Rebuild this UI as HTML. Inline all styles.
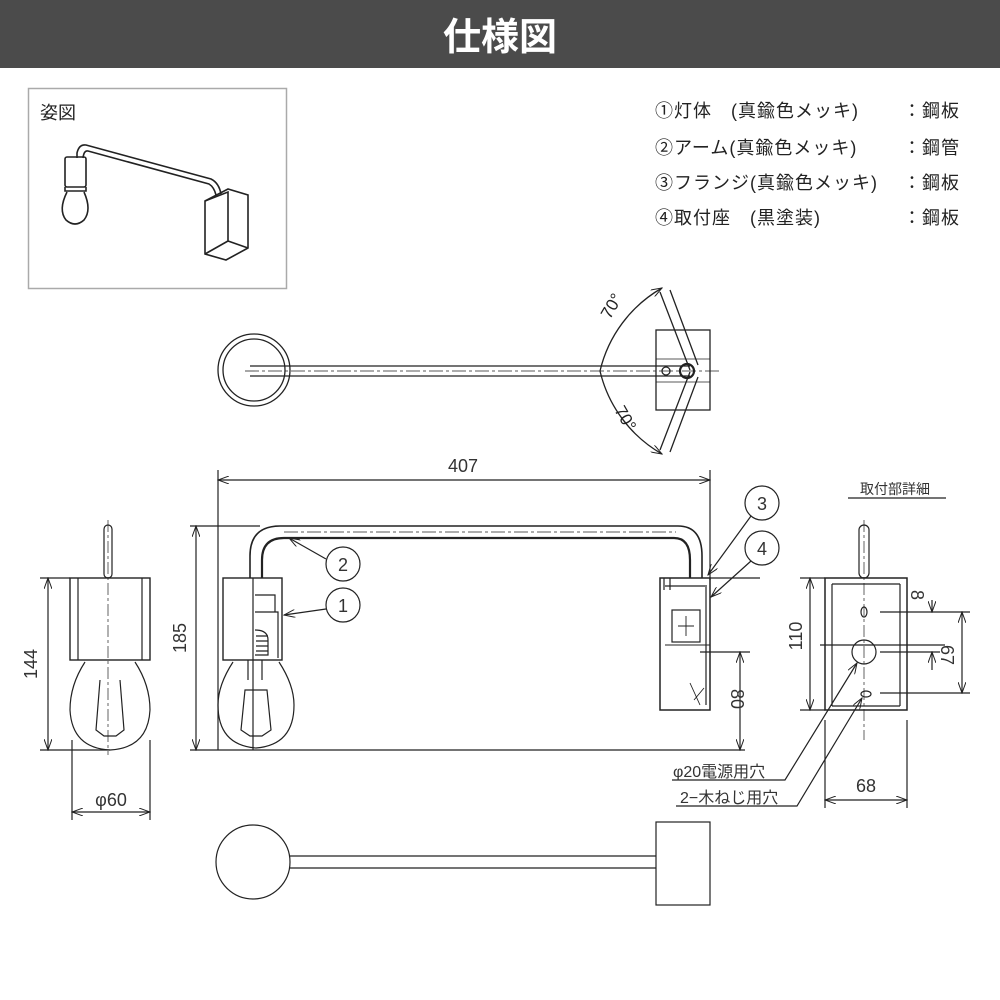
<!DOCTYPE html>
<html><head><meta charset="utf-8"><style>
body{margin:0;background:#fff}
svg{display:block}
text{font-family:"Liberation Sans","Noto Sans CJK JP",sans-serif}
</style></head><body>
<svg width="1000" height="1000" viewBox="0 0 1000 1000" xmlns="http://www.w3.org/2000/svg">
<defs>
<marker id="a" markerWidth="12" markerHeight="8" refX="11" refY="4" orient="auto-start-reverse" markerUnits="userSpaceOnUse"><path d="M0,0 L11,4 L0,8" fill="none" stroke="#222" stroke-width="1"/></marker>
</defs>
<rect x="0" y="0" width="1000" height="68" fill="#4b4b4b"/>
<text x="500" y="50" font-size="38" font-weight="bold" fill="#fff" text-anchor="middle">仕様図</text>

<!-- inset -->
<rect x="28.5" y="88.5" width="258" height="200" fill="none" stroke="#aaa" stroke-width="1.5"/>
<text x="40" y="119" font-size="18" fill="#222">姿図</text>
<g fill="none" stroke="#222" stroke-width="1.6">
<path d="M77,158 L77,153 Q79,144 86,145 L211,179 Q219,183 221,194"/>
<path d="M83,158 Q84,150 88,151 L209,184 Q214,187 216,195"/>
<rect x="65" y="157" width="21" height="30" rx="2"/>
<path d="M65,187 L65,191 L86,191 L86,187"/>
<path d="M67,192 Q58,210 66,220 Q75,228 84,220 Q92,210 84,192"/>
<path d="M205,201 L228,189 L248,195 L248,248 L226,260 L205,254 Z"/>
<path d="M205,201 L228,192 L228,241 L205,254 M228,241 L248,248"/>
</g>

<!-- spec list -->
<g font-size="18" fill="#222" letter-spacing="1">
<text x="655" y="117">①灯体　(真鍮色メッキ)</text><text x="903" y="117">：鋼板</text>
<text x="655" y="154">②アーム(真鍮色メッキ)</text><text x="903" y="154">：鋼管</text>
<text x="655" y="189">③フランジ(真鍮色メッキ)</text><text x="903" y="189">：鋼板</text>
<text x="655" y="224">④取付座　(黒塗装)</text><text x="903" y="224">：鋼板</text>
</g>

<g fill="none" stroke="#222" stroke-width="1.3">
<!-- top view -->
<circle cx="254" cy="370" r="36"/>
<circle cx="254" cy="370" r="31"/>
<path d="M250,366 L690,366 M250,376 L690,376"/>
<path d="M245,371 L720,371" stroke-dasharray="14,3,3,3" stroke-width="0.8"/>
<rect x="656" y="330" width="54" height="80"/>
<path d="M656,359 L710,359 M656,382 L710,382" stroke-width="0.8"/>
<path d="M660,292 L690,370 M670,290 L698,365 M660,450 L690,372 M670,452 L698,377"/>
<circle cx="687" cy="371" r="7" stroke-width="2.2"/>
<circle cx="666" cy="371" r="4"/>
<path d="M662,288 A130,130 0 0 0 600,371 A130,130 0 0 0 662,454" marker-start="url(#a)" marker-end="url(#a)"/>
</g>
<text x="610" y="320" font-size="17" fill="#222" transform="rotate(-60 610 320)">70°</text>
<text x="614" y="410" font-size="17" fill="#222" transform="rotate(60 614 410)">70°</text>

<g fill="none" stroke="#222" stroke-width="1.2">
<!-- 407 dim -->
<path d="M218,470 L218,750 M710,470 L710,580"/>
<path d="M218,480 L710,480" marker-start="url(#a)" marker-end="url(#a)"/>
<!-- 185 dim -->
<path d="M190,526 L260,526 M190,750 L745,750"/>
<path d="M196,526 L196,750" marker-start="url(#a)" marker-end="url(#a)"/>
<!-- arm -->
<path d="M250,578 L250,556 Q250,526 280,526 L678,526 Q702,526 702,556 L702,578" stroke-width="1.6"/>
<path d="M262,578 L262,560 Q262,538 284,538 L674,538 Q690,538 690,560 L690,578" stroke-width="2.2"/>
<path d="M284,532 L676,532" stroke-dasharray="14,3,3,3" stroke-width="0.7"/>
<!-- socket -->
<rect x="223" y="578" width="59" height="82" stroke-width="1.4"/>
<path d="M253,578 L253,750 M255,595 L275,595 L275,612 L255,612 M255,612 L278,612 L278,658"/>
<path d="M255,630 Q268,630 268,640 L268,655 L255,655" />
<path d="M256,636 L268,636 M256,641 L268,641 M256,646 L268,646 M256,651 L268,651"/>
<path d="M233,662 Q218,685 218,705 Q218,745 256,748 Q294,745 294,705 Q294,685 279,662"/>
<path d="M248,660 L248,680 M262,660 L262,680 M245,690 L241,730 L250,736 L262,736 L271,730 L267,690 Z"/>
<!-- wall box -->
<rect x="660" y="578" width="50" height="132" stroke-width="1.5"/>
<path d="M706,585 L706,705 M665,586 L705,586 M664,578 L664,590 M670,578 L670,590"/>
<rect x="672" y="610" width="28" height="32"/>
<path d="M678,626 L694,626 M686,616 L686,636 M665,645 L710,645 M690,683 L700,705 M694,700 L704,688" stroke-width="0.9"/>
<path d="M710,578 L760,578 M700,652 L750,652"/>
<path d="M740,652 L740,750" marker-start="url(#a)" marker-end="url(#a)"/>
<!-- callouts -->
<circle cx="762" cy="503" r="17"/><circle cx="762" cy="548" r="17"/>
<circle cx="343" cy="564" r="17"/><circle cx="343" cy="605" r="17"/>
<path d="M751,516 L708,575" marker-end="url(#a)"/>
<path d="M751,561 L711,597" marker-end="url(#a)"/>
<path d="M326,559 L289,538" marker-end="url(#a)"/>
<path d="M326,609 L284,615" marker-end="url(#a)"/>

<!-- side view -->
<rect x="70" y="578" width="80" height="82" stroke-width="1.4"/>
<path d="M78,578 L78,660 M142,578 L142,660"/>
<rect x="104" y="525" width="8" height="53" rx="4"/>
<path d="M108,520 L108,755" stroke-dasharray="12,3,3,3" stroke-width="0.7"/>
<path d="M85,662 Q70,685 70,710 Q72,748 110,750 Q148,748 150,710 Q150,685 135,662"/>
<path d="M100,680 L96,730 L104,736 L116,736 L124,730 L120,680"/>
<path d="M40,578 L70,578 M40,750 L110,750"/>
<path d="M48,578 L48,750" marker-start="url(#a)" marker-end="url(#a)"/>
<path d="M72,740 L72,820 M150,740 L150,820"/>
<path d="M72,812 L150,812" marker-start="url(#a)" marker-end="url(#a)"/>

<!-- detail -->
<path d="M848,498 L946,498"/>
<rect x="825" y="578" width="82" height="132" stroke-width="1.5"/>
<path d="M832,584 L832,706 M900,584 L900,706 M832,584 L900,584 M832,706 L900,706"/>
<rect x="859" y="525" width="10" height="53" rx="5"/>
<path d="M864,520 L864,740" stroke-dasharray="12,3,3,3" stroke-width="0.7"/>
<circle cx="864" cy="652" r="12"/>
<ellipse cx="864" cy="612" rx="3" ry="5"/>
<ellipse cx="866" cy="694" rx="5" ry="3"/>
<path d="M800,578 L825,578 M800,710 L825,710"/>
<path d="M810,578 L810,710" marker-start="url(#a)" marker-end="url(#a)"/>
<path d="M825,720 L825,808 M907,720 L907,808"/>
<path d="M825,800 L907,800" marker-start="url(#a)" marker-end="url(#a)"/>
<path d="M880,612 L970,612 M880,652 L940,652 M880,693 L970,693 M820,645 L945,645"/>
<path d="M932,600 L932,612" marker-end="url(#a)"/>
<path d="M932,670 L932,652" marker-end="url(#a)"/>
<path d="M962,612 L962,693" marker-start="url(#a)" marker-end="url(#a)"/>
<path d="M672,780 L785,780 L857,663" marker-end="url(#a)"/>
<path d="M676,806 L797,806 L862,698" marker-end="url(#a)"/>
<!-- bottom view -->
<circle cx="253" cy="862" r="37"/>
<path d="M290,856 L656,856 M290,868 L656,868"/>
<rect x="656" y="822" width="54" height="83"/>
</g>

<g font-size="18" fill="#333">
<text x="463" y="472" text-anchor="middle">407</text>
<text x="186" y="638" text-anchor="middle" transform="rotate(-90 186 638)">185</text>
<text x="37" y="664" text-anchor="middle" transform="rotate(-90 37 664)">144</text>
<text x="111" y="806" text-anchor="middle">φ60</text>
<text x="731" y="699" text-anchor="middle" transform="rotate(90 731 699)">80</text>
<text x="802" y="636" text-anchor="middle" transform="rotate(-90 802 636)">110</text>
<text x="866" y="792" text-anchor="middle">68</text>
<text x="911" y="595" text-anchor="middle" transform="rotate(90 911 595)">8</text>
<text x="941" y="655" text-anchor="middle" transform="rotate(90 941 655)">67</text>
<text x="762" y="510" text-anchor="middle">3</text>
<text x="762" y="555" text-anchor="middle">4</text>
<text x="343" y="571" text-anchor="middle">2</text>
<text x="343" y="612" text-anchor="middle">1</text>
</g>
<text x="895" y="494" font-size="14" fill="#333" text-anchor="middle">取付部詳細</text>
<text x="673" y="777" font-size="16" fill="#333">φ20電源用穴</text>
<text x="680" y="803" font-size="16" fill="#333">2−木ねじ用穴</text>
</svg>
</body></html>
